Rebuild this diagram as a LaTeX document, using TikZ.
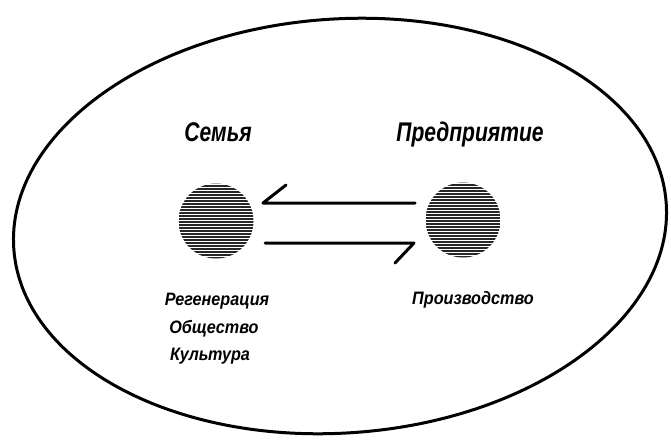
\documentclass[tikz,border=0pt]{standalone}
\usepackage{fontspec}
\newfontfamily\ttlfont[FakeStretch=0.78]{Liberation Sans}
\newfontfamily\lblfont[FakeStretch=0.9]{Liberation Sans}
\begin{document}
\begin{tikzpicture}[x=1pt,y=-1pt,
  ttl/.style={font=\ttlfont\fontsize{27}{30}\selectfont\bfseries\itshape, anchor=base, inner sep=0pt},
  lbl/.style={font=\lblfont\fontsize{18}{22}\selectfont\bfseries\itshape, anchor=base, inner sep=0pt},
  ball/.style={circle, minimum size=75pt, inner sep=0pt,
    path picture={\foreach \i in {-40,-37,...,40}
      \draw[line width=1.8pt, black!85] ([yshift=\i pt]path picture bounding box.west) -- ([yshift=\i pt]path picture bounding box.east);}},
  flow/.style={line width=3pt, line join=round, line cap=round}]
\useasboundingbox (0,0) rectangle (671,439);
\draw[line width=3pt, rotate around={4:(340,226)}] (340,226) ellipse [x radius=327, y radius=207];
\node[ball] (fam) at (216,221) {};
\node[ball] (ent) at (463,220) {};
\node[ttl] (famt) at (218,141) {Семья};
\node[ttl] (entt) at (470,141) {Предприятие};
\node[lbl] (faml1) at (217,305) {Регенерация};
\node[lbl] (faml2) at (214,333) {Общество};
\node[lbl] (faml3) at (210,360) {Культура};
\node[lbl] (entl) at (473,304) {Производство};
\coordinate (u1) at (415,203);
\coordinate (u2) at (263,203);
\coordinate (u3) at (286,185);
\coordinate (d1) at (265,243);
\coordinate (d2) at (414,243);
\coordinate (d3) at (395,263);
\draw[flow] (u1) -- (u2) -- (u3);
\draw[flow] (d1) -- (d2) -- (d3);
\end{tikzpicture}
\end{document}
